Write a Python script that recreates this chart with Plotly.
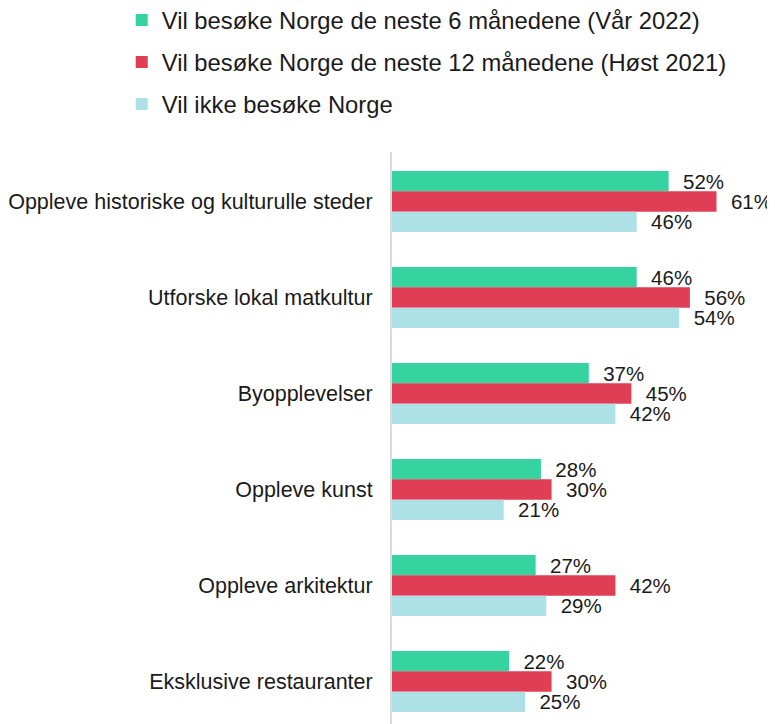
import plotly.graph_objects as go

categories = [
    "Oppleve historiske og kulturulle steder",
    "Utforske lokal matkultur",
    "Byopplevelser",
    "Oppleve kunst",
    "Oppleve arkitektur",
    "Eksklusive restauranter",
]
series_names = [
    "Vil besøke Norge de neste 6 månedene (Vår 2022)",
    "Vil besøke Norge de neste 12 månedene (Høst 2021)",
    "Vil ikke besøke Norge",
]
vaar2022 = [52, 46, 37, 28, 27, 22]
host2021 = [61, 56, 45, 30, 42, 30]
ikke = [46, 54, 42, 21, 29, 25]
colors = ["#35D39F", "#E03E54", "#AEE0E8"]

FONT = "Liberation Sans, Arial, sans-serif"
fig = go.Figure()
for i, (name, vals) in enumerate(zip(series_names, [vaar2022, host2021, ikke])):
    fig.add_trace(go.Bar(
        y=categories, x=vals, name=name, orientation="h",
        marker=dict(color=colors[i], line=dict(width=0)),
        text=["\u00a0\u00a0%d%%" % v for v in vals],
        textposition="outside", constraintext="none", cliponaxis=False,
        textfont=dict(size=20.5, color="#1a1a1a", family=FONT),
        legendgroup=str(i),
        hoverinfo="skip",
    ))

fig.update_layout(
    width=767, height=716,
    margin=dict(l=384, r=0, t=144, b=0, pad=0, autoexpand=False),
    paper_bgcolor="white", plot_bgcolor="white",
    barmode="group", bargap=0.365, bargroupgap=0,
    font=dict(family=FONT, size=21, color="#1a1a1a"),
    showlegend=True,
    legend=dict(
        xref="paper", yref="paper",
        x=-0.7057, y=1.269, xanchor="left", yanchor="top",
        traceorder="grouped", tracegroupgap=8,
        font=dict(size=23.8, family=FONT, color="#1a1a1a"),
        itemsizing="constant",
    ),
    xaxis=dict(range=[0, 72], visible=False, fixedrange=True, automargin=False),
    yaxis=dict(
        categoryorder="array", categoryarray=categories,
        range=[5.443, -0.5156], automargin=False,
        showline=True, linecolor="#d9d9d9", linewidth=2,
        showgrid=False, zeroline=False, ticks="",
        ticklabelstandoff=13,
        tickfont=dict(size=21.5, family=FONT, color="#1a1a1a"),
    ),
)
fig.write_html("out.html")
